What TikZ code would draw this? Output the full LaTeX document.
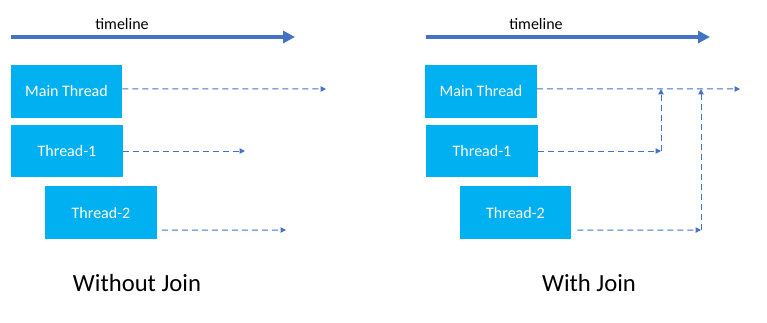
\documentclass[tikz,border=0pt]{standalone}
\usepackage{fontspec}
\setmainfont{Carlito}
\usetikzlibrary{arrows.meta,calc}
\definecolor{boxblue}{HTML}{00B0F0}
\definecolor{lineblue}{HTML}{4472C4}

\begin{document}
\begin{tikzpicture}[x=0.75pt,y=-0.75pt,
	thread/.style={ fill=boxblue, text=white, inner sep=0pt, minimum width=83.5pt, minimum height=39.5pt, font=\fontsize{12}{14}\selectfont },
	timeaxis/.style={ lineblue, line width=3pt, -{Triangle[length=9pt,width=9pt]} },
	flow/.style={ lineblue, line width=0.75pt, dash pattern=on 4.5pt off 3pt, -{Triangle[length=4pt,width=4pt]} },
	caption/.style={ font=\fontsize{18.5}{22}\selectfont }
]
\useasboundingbox (0,0) rectangle (767,322);

% without join
\coordinate (axisAstart) at (11,37);
\coordinate (axisAend) at (295,37);
\node[font=\fontsize{12}{14}\selectfont] at (122,24) (timeA) {timeline};
\draw[timeaxis] (axisAstart) -- (axisAend);

\node[thread] at (66.5,91.5) (mainA) {Main Thread};
\node[thread] at (67,151) (oneA) {Thread-1};
\node[thread] at (101,212.5) (twoA) {Thread-2};

\coordinate (mainAend) at (326,89);
\coordinate (oneAend) at (245,151);
\coordinate (twoAend) at (286,230);
\draw[flow] ([yshift=2pt]mainA.east) -- (mainAend);
\draw[flow] (oneA.east) -- (oneAend);
\draw[flow] ($(twoA.south east)+(5,-9)$) -- (twoAend);

\node[caption] at (137,283) (capA) {Without Join};

% with join
\coordinate (axisBstart) at (426,37);
\coordinate (axisBend) at (710,37);
\node[font=\fontsize{12}{14}\selectfont] at (536,24) (timeB) {timeline};
\draw[timeaxis] (axisBstart) -- (axisBend);

\node[thread] at (481,91.5) (mainB) {Main Thread};
\node[thread] at (482,151) (oneB) {Thread-1};
\node[thread] at (515.5,212.5) (twoB) {Thread-2};

\coordinate (mainBend) at (740,89);
\coordinate (oneBjoin) at (661,151);
\coordinate (oneBmeet) at (661,89);
\coordinate (twoBjoin) at (701,230);
\coordinate (twoBmeet) at (701,89);
\draw[flow] ([yshift=2pt]mainB.east) -- (mainBend);
\draw[flow] (oneB.east) -- (oneBjoin);
\draw[flow] (oneBjoin) -- (oneBmeet);
\draw[flow] ($(twoB.south east)+(6,-9)$) -- (twoBjoin);
\draw[flow] (twoBjoin) -- (twoBmeet);

\node[caption] at (589,283) (capB) {With Join};

\end{tikzpicture}
\end{document}
